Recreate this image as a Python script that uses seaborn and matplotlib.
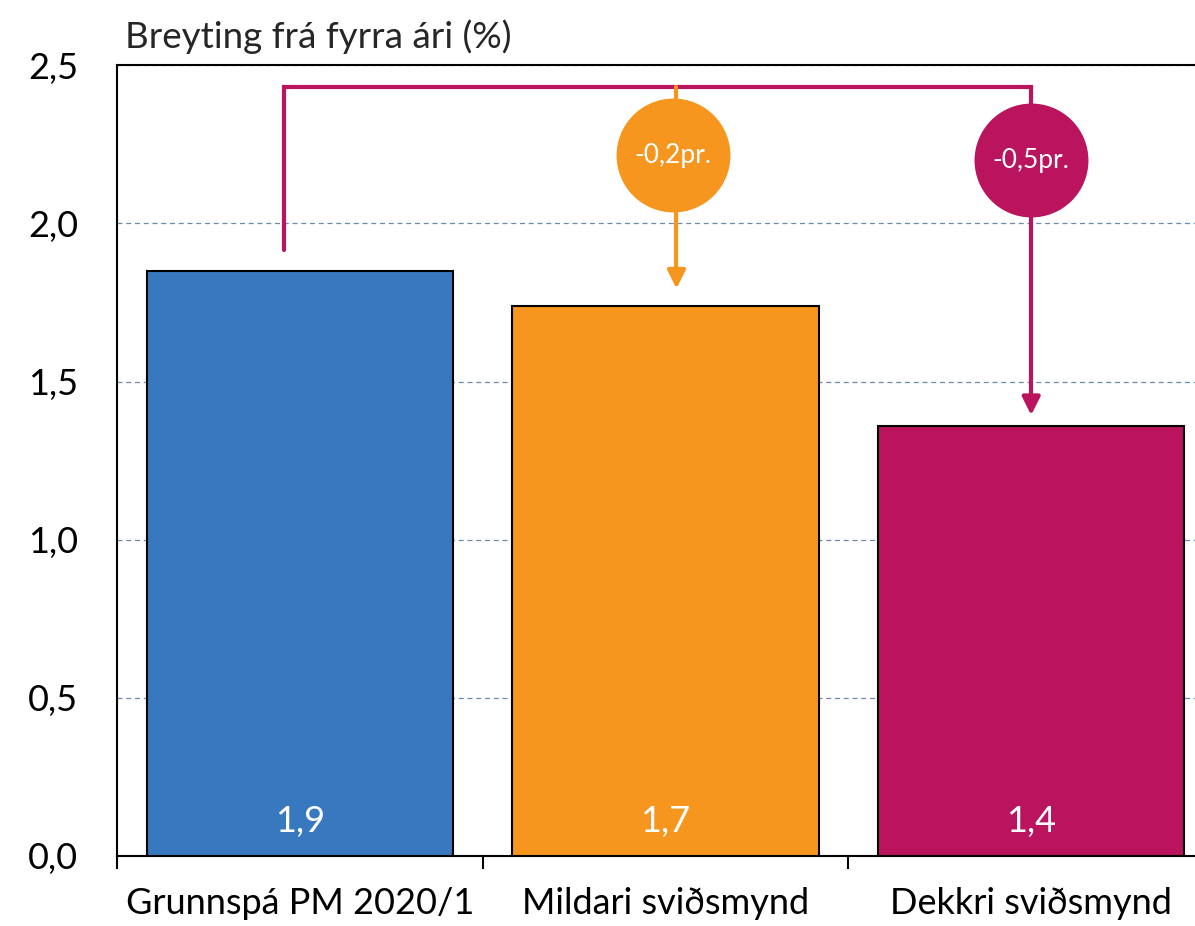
import seaborn as sns
import matplotlib.pyplot as plt
import pandas as pd
from matplotlib.ticker import FuncFormatter, FixedLocator

sns.set_theme(style="white")
plt.rcParams["font.family"] = ["Lato", "DejaVu Sans"]

categories = ["Grunnspá PM 2020/1", "Mildari sviðsmynd", "Dekkri sviðsmynd"]
values = [1.85, 1.74, 1.36]
value_labels = ["1,9", "1,7", "1,4"]
colors = ["#3878BE", "#F6961F", "#B9145D"]
changes = ["-0,2pr.", "-0,5pr."]
title = "Breyting frá fyrra ári (%)"

df = pd.DataFrame({"cat": categories, "val": values})

fig = plt.figure(figsize=(11.95, 9.26), dpi=100)
ax = fig.add_axes([0.0979, 0.0756, 0.918, 0.854])

sns.barplot(df, x="cat", y="val", hue="cat", palette=colors, width=0.837,
            saturation=1, edgecolor="black", linewidth=1.5, legend=False,
            ax=ax, zorder=3)

ax.set_ylim(0, 2.5)
ax.set_xlim(-0.5, 2.5)
ax.set_xlabel("")
ax.set_ylabel("")

# gridlines
ax.set_yticks([0, 0.5, 1.0, 1.5, 2.0, 2.5])
ax.yaxis.set_major_formatter(FuncFormatter(lambda v, p: f"{v:.1f}".replace(".", ",")))
ax.grid(axis="y", linestyle=(0, (4, 3)), color="#6A8AB0", linewidth=0.9, zorder=0)
ax.tick_params(axis="y", length=0, pad=28, labelsize=26, labelcolor="black")
ax.tick_params(axis="x", which="major", length=0, pad=22, labelsize=26, labelcolor="black")
ax.xaxis.set_minor_locator(FixedLocator([-0.5, 0.5, 1.5, 2.5]))
ax.tick_params(axis="x", which="minor", length=9, width=1.5, color="black", direction="out", bottom=True)

for side in ["left", "bottom", "top", "right"]:
    ax.spines[side].set_color("black")
    ax.spines[side].set_linewidth(1.5)

# value labels inside the bars
for i, lab in enumerate(value_labels):
    ax.text(i, 0.11, lab, ha="center", va="center", color="white", fontsize=26, zorder=5)

# connectors
top = 2.43
mag = colors[2]
org = colors[1]
x0 = -0.043
ax.plot([x0, x0, 2.0, 2.0], [values[0] + 0.065, top, top, values[2] + 0.08],
        color=mag, linewidth=3, zorder=4, solid_joinstyle="miter")
ax.annotate("", xy=(2.0, values[2] + 0.025), xytext=(2.0, values[2] + 0.1),
            arrowprops=dict(arrowstyle="-|>,head_length=0.9,head_width=0.45", color=mag, lw=3),
            zorder=4)
ax.plot([1.03, 1.03], [top, values[1] + 0.09], color=org, linewidth=3, zorder=4)
ax.annotate("", xy=(1.03, values[1] + 0.045), xytext=(1.03, values[1] + 0.11),
            arrowprops=dict(arrowstyle="-|>,head_length=0.9,head_width=0.45", color=org, lw=3),
            zorder=4)

# circles with the change labels
for x, y, c, t in [(1.02, 2.215, org, changes[0]), (2.0, 2.2, mag, changes[1])]:
    ax.plot([x], [y], marker="o", markersize=82, color=c, markeredgewidth=0, zorder=6)
    ax.text(x, y, t, ha="center", va="center", color="white", fontsize=19, zorder=7)

fig.text(125 / 1195, 1 - 37 / 926, title, ha="left", va="center", fontsize=26.5)

fig.savefig("out.png", dpi=100)
